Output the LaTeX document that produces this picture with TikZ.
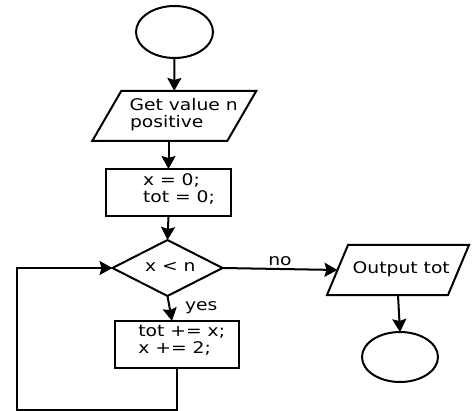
\documentclass[tikz,border=0pt]{standalone}
\usepackage{fontspec}
\setmainfont{DejaVu Sans}[FakeStretch=1.17]
\usetikzlibrary{shapes.geometric,arrows.meta,calc}
\begin{document}
\begin{tikzpicture}[x=1pt,y=-1pt,
  every node/.style={inner sep=0pt,outer sep=0pt},
  ln/.style={line width=2pt},
  arr/.style={ln,-{Stealth[length=13pt,width=14pt,inset=2pt]}},
  term/.style={ellipse,draw,ln},
  proc/.style={rectangle,draw,ln},
  iobox/.style={rectangle,draw=none},
  dec/.style={diamond,draw,ln,minimum width=110pt,minimum height=56pt},
  txt/.style={font=\fontsize{16}{19}\selectfont,anchor=base west}]
\useasboundingbox (0,0) rectangle (473,411);
% start
\node[term,minimum width=77pt,minimum height=52pt] (start) at (174.5,32) {};
% input
\node[iobox,minimum width=135pt,minimum height=50pt] (in) at (174.25,116) {};
\draw[ln,line join=miter] ([xshift=14.5pt]in.north west) -- ([xshift=14.5pt]in.north east)
  -- ([xshift=-14.5pt]in.south east) -- ([xshift=-14.5pt]in.south west) -- cycle;
\node[txt] at (129.5,110.7) {Get value n};
\node[txt] at (130,127.3) {positive};
% init
\node[proc,minimum width=125pt,minimum height=47pt] (init) at (168.5,192.5) {};
\node[txt] at (143,186) {x = 0;};
\node[txt] at (143,203) {tot = 0;};
% test
\node[dec] (test) at (167.5,268) {};
\node[txt] at (145,271.7) {x < n};
% body
\node[proc,minimum width=124pt,minimum height=47pt] (body) at (177,344.5) {};
\node[txt] at (138.3,336) {tot += x;};
\node[txt] at (138.3,353.3) {x += 2;};
% output
\node[iobox,minimum width=121pt,minimum height=50pt] (out) at (398,270) {};
\draw[ln,line join=miter] ([xshift=10.5pt]out.north west) -- ([xshift=10.5pt]out.north east)
  -- ([xshift=-10.5pt]out.south east) -- ([xshift=-10.5pt]out.south west) -- cycle;
\node[txt] at (352.7,273.3) {Output tot};
% end
\node[term,minimum width=76pt,minimum height=50pt] (stop) at (400,357) {};
% connectors
\draw[arr] (start.south) -- (in.north);
\draw[arr] (in.south -| init.north) -- (init.north);
\draw[arr] (init.south) -- (test.north);
\draw[arr] (test.east) -- node[txt,above=3pt,anchor=south] {no} (out.west);
\draw[arr] (test.south) -- ($(body.north)+(-5,0)$);
\node[txt] at (185,310) {yes};
\draw[arr] (out.south) -- (stop.north);
\coordinate (lb) at (17,409.5);
\draw[arr] (body.south) |- (lb) |- (test.west);
\end{tikzpicture}
\end{document}
